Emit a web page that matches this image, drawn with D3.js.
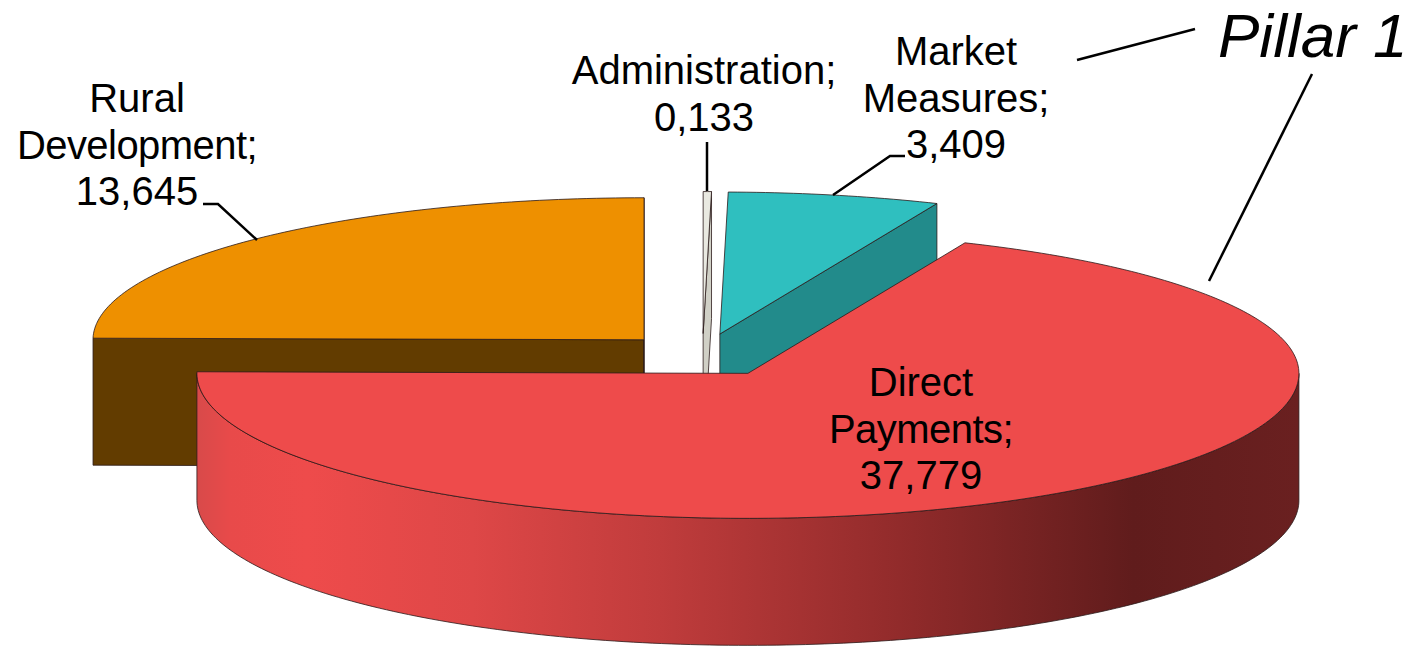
<!DOCTYPE html>
<html>
<head>
<meta charset="utf-8">
<script src="https://cdn.jsdelivr.net/npm/d3@7"></script>
<style>
    html, body { margin: 0; padding: 0; background: #fff; }
    svg { display: block; }
    text { font-family: "Liberation Sans", Arial, sans-serif; fill: #000; }
</style>
</head>
<body>
<svg id="pie"></svg>
<script>
// Data
const categories = ['Direct Payments', 'Rural Development', 'Administration', 'Market Measures'];
const values = [37.779, 13.645, 0.133, 3.409];
const valueLabels = ['37,779', '13,645', '0,133', '3,409'];
const topColors = ['#ee4b4b', '#ee9000', '#e9e9e1', '#2fbfbf'];
const sideColors = ['#ee4b4b', '#623c00', '#d0d0c6', '#228b8b'];

const width = 1420;
const height = 646;

// Pie geometry
const center = {x: 702.5, y: 355};
const rx = 551;
const ryBack = 142;
const ryFront = 145;
const depth = 127;
const explode = 0.151;
const startDeg = 23.2;
const rad = Math.PI / 180;

const svg = d3.select('#pie')
    .attr('width', width)
    .attr('height', height);

// Red wall gradient
const grad = svg.append('defs').append('linearGradient')
    .attr('id', 'wallShade')
    .attr('gradientUnits', 'objectBoundingBox')
    .attr('x1', 0).attr('x2', 1).attr('y1', 0).attr('y2', 0);
[[0, '#d84a4a'], [0.03, '#e84a4a'], [0.1, '#ee4b4b'], [0.25, '#de4747'], [0.42, '#c03c3c'],
 [0.65, '#8f2a2a'], [0.85, '#601c1c'], [1, '#6a2020']].forEach(s => {
    grad.append('stop').attr('offset', s[0]).attr('stop-color', s[1]);
});

const pie = d3.pie()
    .sort(null)
    .startAngle(startDeg * rad)
    .endAngle((startDeg + 360) * rad);

const slices = pie(values).map((d, i) => ({...d, name: categories[i], i}));

// Angle is clockwise from the top of the ellipse
const rimX = a => rx * Math.sin(a);
const rimY = a => -Math.cos(a) * (Math.cos(a) > 0 ? ryBack : ryFront);

function apexOf(d) {
    const mid = (d.startAngle + d.endAngle) / 2;
    return [
        center.x + explode * rimX(mid),
        center.y + explode * rimY(mid)
    ];
}

function rimPoints(d, from, to, dy) {
    const apex = apexOf(d);
    const n = Math.max(2, Math.ceil((to - from) / rad));
    return d3.range(n + 1).map(k => {
        const a = from + (to - from) * k / n;
        return [apex[0] + rimX(a), apex[1] + rimY(a) + dy];
    });
}

const line = d3.line();
const outline = {stroke: '#2b1a1a', width: 0.8};

// Back slices first, the big red one sits in front of everything
const drawOrder = [1, 2, 3, 0];

drawOrder.forEach(idx => {
    const d = slices[idx];
    const g = svg.append('g').attr('class', 'slice');
    const apex = apexOf(d);

    // Cut faces, only those turned towards the viewer
    [[d.startAngle, d.startAngle - Math.PI / 2], [d.endAngle, d.endAngle + Math.PI / 2]].forEach(f => {
        if (Math.cos(f[1]) < -1e-6) {
            const corner = rimPoints(d, f[0], f[0], 0)[0];
            g.append('path')
                .attr('d', line([apex, corner, [corner[0], corner[1] + depth], [apex[0], apex[1] + depth]]) + 'Z')
                .attr('fill', sideColors[idx])
                .attr('stroke', outline.stroke)
                .attr('stroke-width', outline.width);
        }
    });

    // Outer wall on the front half of the ellipse
    const from = Math.max(d.startAngle, 90 * rad);
    const to = Math.min(d.endAngle, 270 * rad);
    if (to > from) {
        const upper = rimPoints(d, from, to, 0);
        const lower = rimPoints(d, from, to, depth).reverse();
        g.append('path')
            .attr('d', line(upper.concat(lower)) + 'Z')
            .attr('fill', 'url(#wallShade)')
            .attr('stroke', outline.stroke)
            .attr('stroke-width', outline.width);
    }

    // Top face
    g.append('path')
        .attr('d', line([apex].concat(rimPoints(d, d.startAngle, d.endAngle, 0))) + 'Z')
        .attr('fill', topColors[idx])
        .attr('stroke', outline.stroke)
        .attr('stroke-width', outline.width);
});

// Labels
const labelLines = [
    ['Direct', 'Payments;', valueLabels[0]],
    ['Rural', 'Development;', valueLabels[1]],
    ['Administration;', valueLabels[2]],
    ['Market', 'Measures;', valueLabels[3]]
];
const labelAnchor = [
    {x: 921, y: 396},
    {x: 137, y: 112},
    {x: 704, y: 84},
    {x: 956, y: 65}
];

labelLines.forEach((lines, i) => {
    svg.append('g').selectAll('text')
        .data(lines)
        .enter()
        .append('text')
        .attr('x', labelAnchor[i].x)
        .attr('y', (d, k) => labelAnchor[i].y + k * 46.5)
        .attr('text-anchor', 'middle')
        .style('font-size', '40px')
        // these two come out a bit narrower in the original
        .style('letter-spacing', d => (d === 'Development;' || d === 'Payments;') ? '-0.55px' : null)
        .text(d => d);
});

// Leader lines
const leaders = [
    [[203, 204], [218, 204], [257, 240]],
    [[707, 142], [707, 191]],
    [[905, 156], [890, 156], [833, 195]],
    [[1077, 60], [1195, 29]],
    [[1312, 74], [1209, 281]]
];
svg.append('g').selectAll('path')
    .data(leaders)
    .enter()
    .append('path')
    .attr('d', d => line(d))
    .attr('fill', 'none')
    .attr('stroke', '#000')
    .attr('stroke-width', 2.5);

svg.append('text')
    .attr('x', 1218)
    .attr('y', 57)
    .style('font-size', '62px')
    .style('font-style', 'italic')
    .text('Pillar 1');
</script>
</body>
</html>
